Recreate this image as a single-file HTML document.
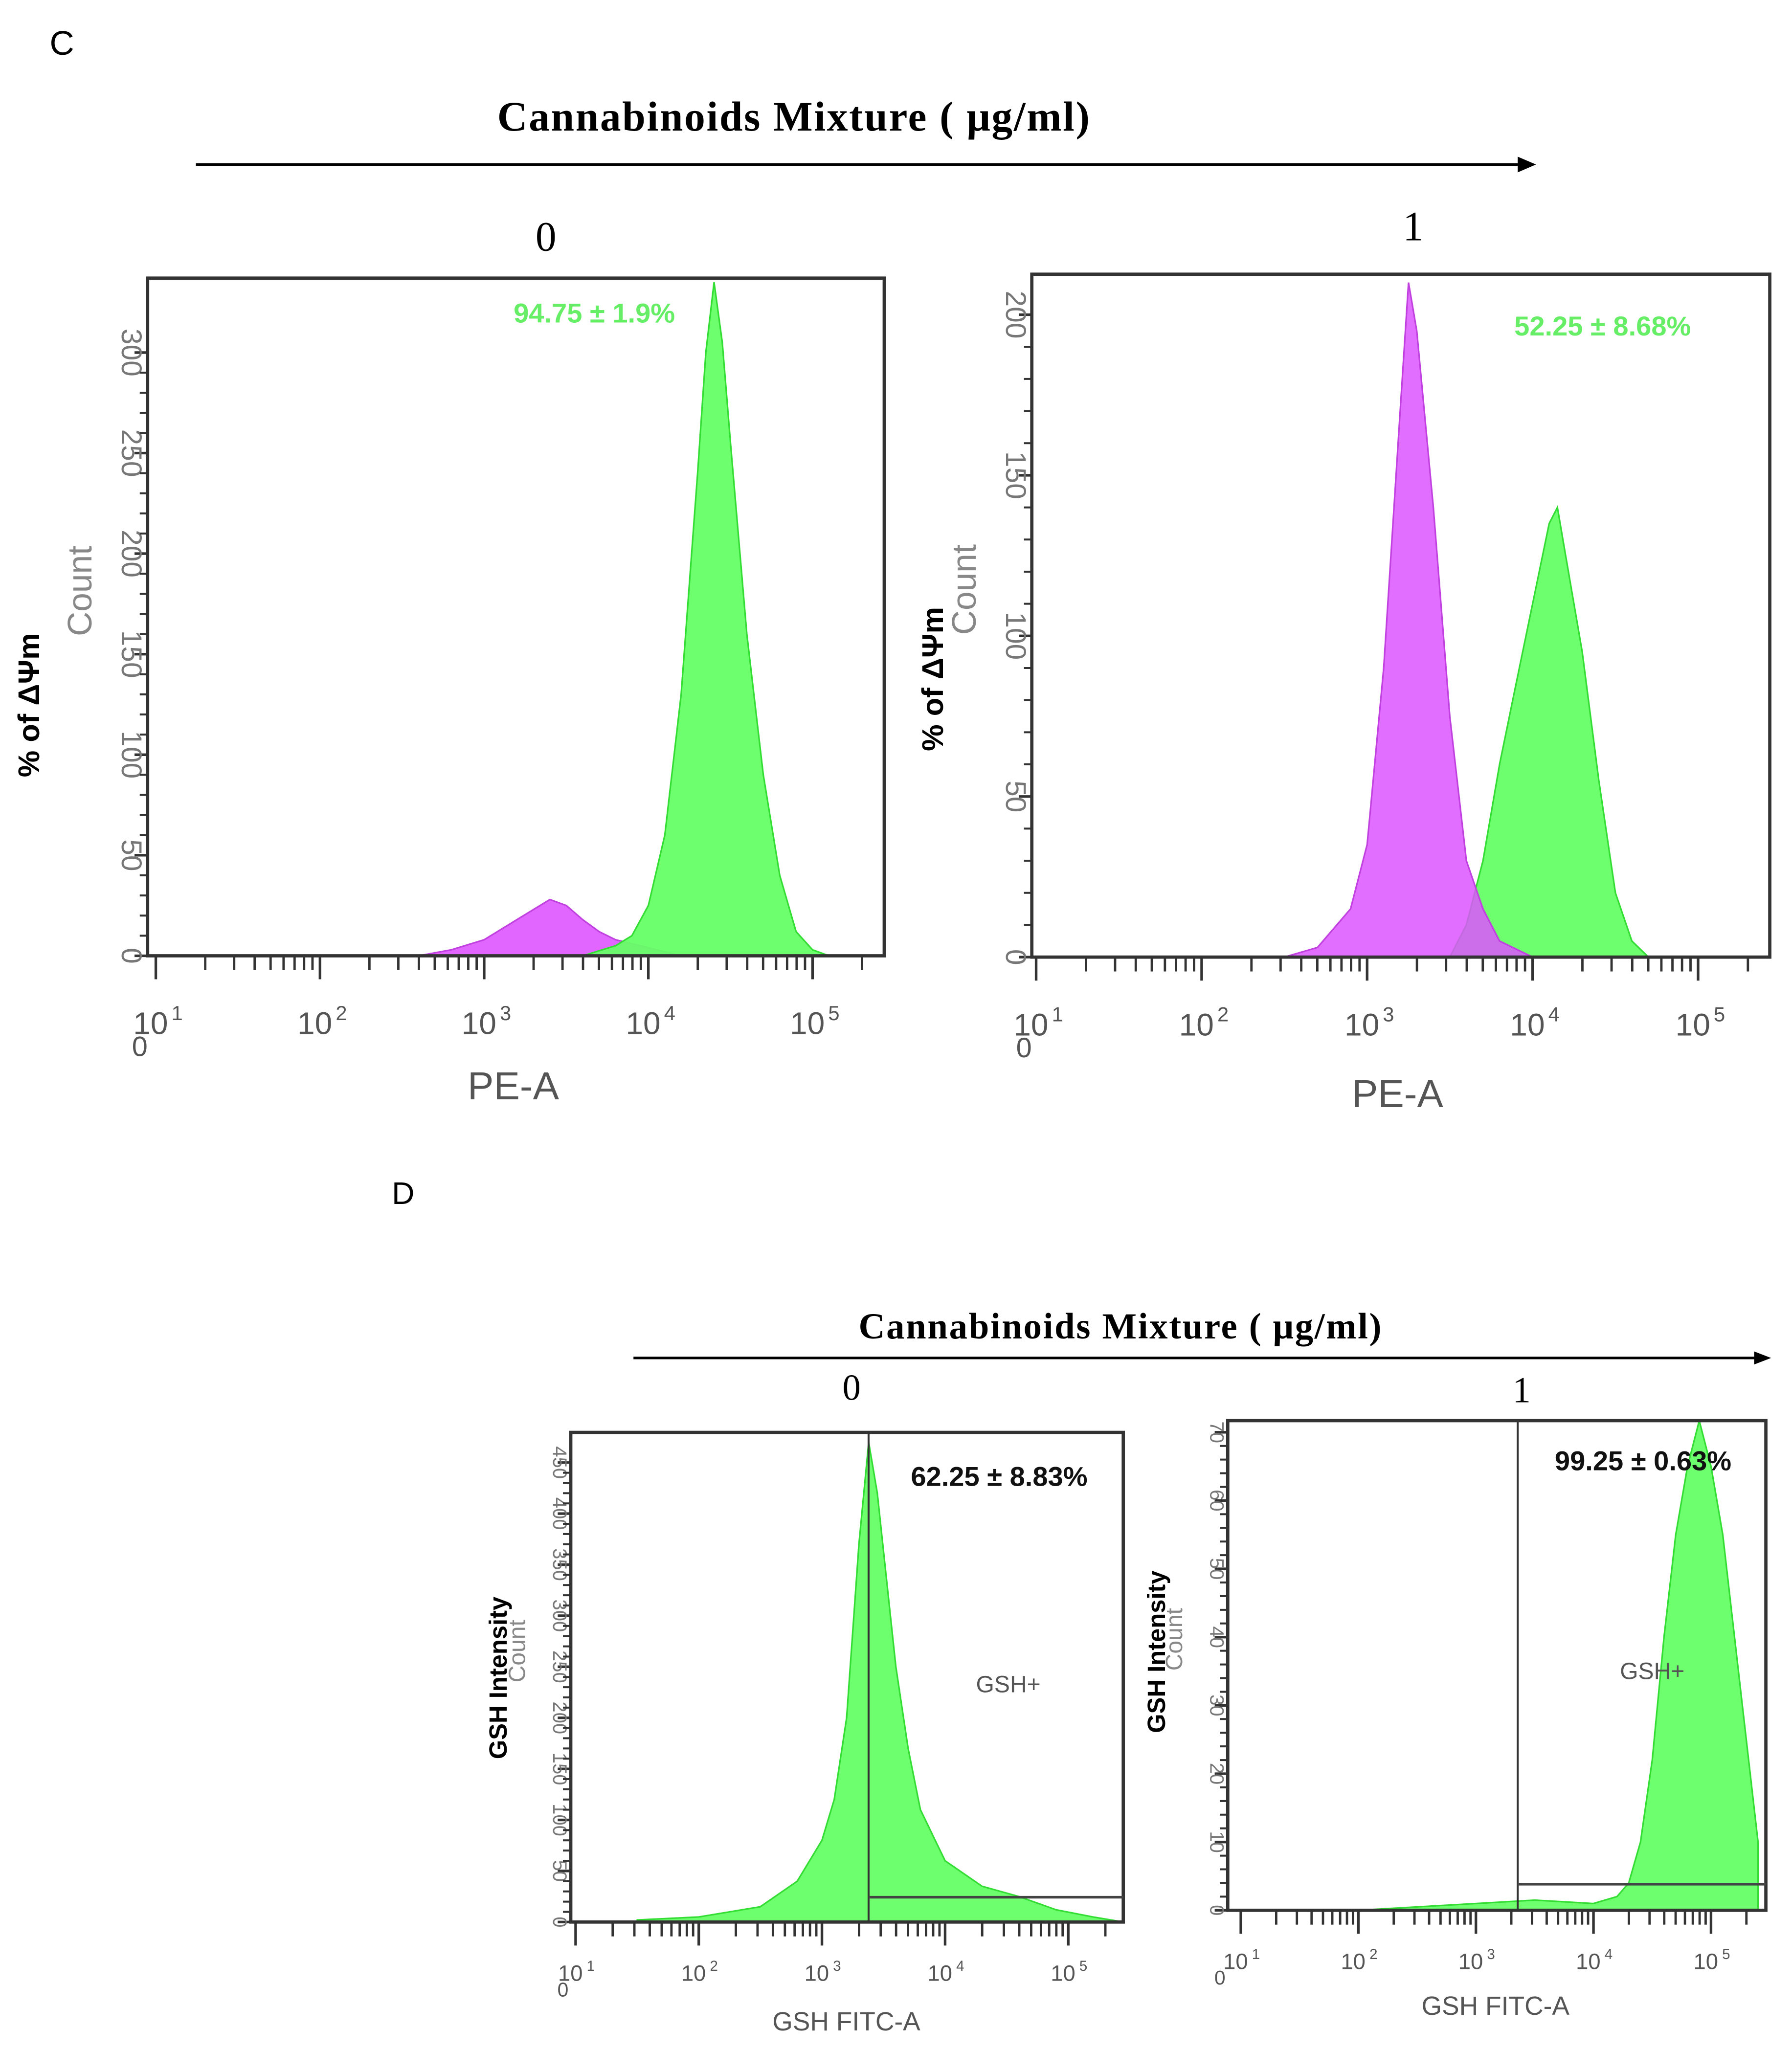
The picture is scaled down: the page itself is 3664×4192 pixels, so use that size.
<!DOCTYPE html>
<html><head><meta charset="utf-8">
<style>
html,body{margin:0;padding:0;background:#fff;}
svg{display:block;}
</style></head>
<body>
<svg id="fig" xmlns="http://www.w3.org/2000/svg" width="3664" height="4192" viewBox="0 0 1372 1570" preserveAspectRatio="none">
<rect width="1372" height="1570" fill="#fff"/>
<text x="38" y="42" font-family="Liberation Sans, sans-serif" font-size="26">C</text>
<text x="608" y="100" text-anchor="middle" font-family="Liberation Serif, serif" font-weight="bold" font-size="32" letter-spacing="1">Cannabinoids Mixture  ( μg/ml)</text>
<line x1="150" y1="126" x2="1165" y2="126" stroke="#000" stroke-width="2"/>
<polygon points="1176,126 1162,120 1162,132" fill="#000"/>
<text x="418" y="192" text-anchor="middle" font-family="Liberation Serif, serif" font-size="32">0</text>
<text x="1082" y="184" text-anchor="middle" font-family="Liberation Serif, serif" font-size="32">1</text>

<text x="300" y="922" font-family="Liberation Sans, sans-serif" font-size="24">D</text>
<text x="858" y="1025" text-anchor="middle" font-family="Liberation Serif, serif" font-weight="bold" font-size="28" letter-spacing="1">Cannabinoids Mixture  ( μg/ml)</text>
<line x1="485" y1="1040" x2="1345" y2="1040" stroke="#000" stroke-width="2"/>
<polygon points="1356,1040 1343,1035 1343,1045" fill="#000"/>
<text x="652" y="1072" text-anchor="middle" font-family="Liberation Serif, serif" font-size="28">0</text>
<text x="1165" y="1074" text-anchor="middle" font-family="Liberation Serif, serif" font-size="28">1</text>
<g id="plots"></g>
</svg>
<script>
// ---- data (log10 intensity, count) ----
const c1GreenLog = [3.6,3.8,3.9,4.0,4.1,4.2,4.3,4.35,4.4,4.45,4.5,4.6,4.7,4.8,4.9,5.0,5.1];
const c1GreenCnt = [0,5,10,25,60,130,240,300,335,305,255,160,90,40,12,3,0];
const c1MagLog = [2.6,2.8,3.0,3.2,3.4,3.5,3.6,3.7,3.8,4.0,4.2];
const c1MagCnt = [0,3,8,18,28,25,18,12,8,4,0];
const c2MagLog = [2.5,2.7,2.9,3.0,3.1,3.2,3.25,3.3,3.4,3.5,3.6,3.7,3.8,4.0];
const c2MagCnt = [0,3,15,35,90,170,210,195,140,75,30,15,5,0];
const c2GreenLog = [3.5,3.6,3.7,3.8,3.9,4.0,4.1,4.15,4.2,4.3,4.4,4.5,4.6,4.7];
const c2GreenCnt = [0,10,30,60,85,110,135,140,125,95,55,20,5,0];
const d1Log = [1.5,2.0,2.5,2.8,3.0,3.1,3.2,3.3,3.38,3.45,3.6,3.7,3.8,4.0,4.3,4.6,4.9,5.2,5.45];
const d1Cnt = [2,5,15,40,80,120,200,370,470,420,250,170,110,60,35,25,12,5,0];
const d2Log = [2.0,2.5,3.0,3.5,4.0,4.2,4.3,4.4,4.5,4.6,4.7,4.8,4.9,5.0,5.1,5.2,5.3,5.4];
const d2Cnt = [0,0.5,1,1.5,1,2,4,10,22,40,55,65,72,65,55,40,25,10];
const c1Ticks = [0,50,100,150,200,250,300];
const c2Ticks = [0,50,100,150,200];
const d1Ticks = [0,50,100,150,200,250,300,350,400,450];
const d2Ticks = [0,10,20,30,40,50,60,70];
const decades = [1,2,3,4,5];

const NS="http://www.w3.org/2000/svg";
const root=document.getElementById('plots');
function mk(tag,attrs,parent){const e=document.createElementNS(NS,tag);for(const k in attrs)e.setAttribute(k,attrs[k]);(parent||root).appendChild(e);return e;}

function panel(p){
  const g=mk('g',{});
  
  
  const X=l=>p.x2+(l-2)*p.dec, Y=c=>Math.max(p.T,p.y0-c*p.ppc);
  p.series.forEach(s=>{
    let d='M'+X(s.log[0])+','+p.y0;
    s.log.forEach((l,i)=>{d+=' L'+X(l).toFixed(1)+','+Y(s.cnt[i]).toFixed(1);});
    d+=' L'+X(s.log[s.log.length-1]).toFixed(1)+','+p.y0+' Z';
    const path=mk('path',{d:d,fill:s.fill,'fill-opacity':s.op,stroke:s.stroke,'stroke-width':1.2},g);
    
    
  });
  const box=mk('rect',{x:p.L,y:p.T,width:p.R-p.L,height:p.y0-p.T,fill:'none',stroke:'#333','stroke-width':2.5},g);
  
  
  p.ticks.forEach(t=>{
    const y=Y(t);
    mk('line',{x1:p.L-10,y1:y,x2:p.L,y2:y,stroke:'#333','stroke-width':2},g);
    const lx=p.L-p.yfs2*0.9;
    const tx=mk('text',{x:lx,y:y,'text-anchor':'middle','font-family':'Liberation Sans, sans-serif','font-size':p.yfs2,fill:'#777',transform:`rotate(90 ${lx} ${y})`},g);
    tx.textContent=t;
    
    
  });
  for(let i=0;i<p.ticks.length-1;i++){for(let k=1;k<5;k++){const y=Y(p.ticks[i]+(p.ticks[i+1]-p.ticks[i])*k/5);mk('line',{x1:p.L-6,y1:y,x2:p.L,y2:y,stroke:'#333','stroke-width':1.5},g);}}
  decades.forEach(dc=>{
    const x=X(dc);
    mk('line',{x1:x,y1:p.y0,x2:x,y2:p.y0+18,stroke:'#333','stroke-width':2},g);
    for(let m=2;m<10;m++){const xm=X(dc+Math.log10(m));if(xm<p.R)mk('line',{x1:xm,y1:p.y0,x2:xm,y2:p.y0+11,stroke:'#333','stroke-width':1.8},g);}
    const tl=mk('text',{x:x-4,y:p.y0+p.xty,'text-anchor':'middle','font-family':'Liberation Sans, sans-serif','font-size':p.xfs,fill:'#555'},g);
    tl.textContent='10';
    
    
    const sup=mk('text',{x:x+p.xfs*0.5,y:p.y0+p.xty-p.xfs*0.45,'font-family':'Liberation Sans, sans-serif','font-size':p.xfs*0.65,fill:'#555'},g);
    sup.textContent=dc;
  });
  const z=mk('text',{x:p.L-6,y:p.y0+p.xty+p.xfs*0.7,'text-anchor':'middle','font-family':'Liberation Sans, sans-serif','font-size':p.xfs*0.9,fill:'#555'},g);z.textContent='0';
  const xl=mk('text',{x:p.xlx,y:p.xly,'text-anchor':'middle','font-family':'Liberation Sans, sans-serif','font-size':p.xlfs,fill:'#555'},g);
  xl.textContent=p.xlabel;
  
  
  const cy=(p.T+p.y0)/2-20;
  const ct=mk('text',{x:p.cx,y:cy,'text-anchor':'middle','font-family':'Liberation Sans, sans-serif','font-size':p.cfs,fill:'#888',transform:`rotate(-90 ${p.cx} ${cy})`},g);
  ct.textContent='Count';
  
  
  const yl=mk('text',{x:p.ylx,y:p.yly,'text-anchor':'middle','font-family':'Liberation Sans, sans-serif','font-weight':'bold','font-size':p.yfs,fill:'#000',transform:`rotate(-90 ${p.ylx} ${p.yly})`},g);
  yl.textContent=p.ylabel;
  
  
  if(p.gate){
    mk('line',{x1:p.gate.x,y1:p.T,x2:p.gate.x,y2:p.y0,stroke:'#333','stroke-width':1.5},g);
    mk('line',{x1:p.gate.x,y1:p.gate.y,x2:p.R,y2:p.gate.y,stroke:'#444','stroke-width':2},g);
    const gl=mk('text',{x:p.gate.lx,y:p.gate.ly,'text-anchor':'middle','font-family':'Liberation Sans, sans-serif','font-size':18,fill:'#555'},g);
    gl.textContent='GSH+';
    
    
  }
  const pt=mk('text',{x:p.pct.x,y:p.pct.y,'text-anchor':'middle','font-family':'Liberation Sans, sans-serif','font-weight':'bold','font-size':p.pct.fs,fill:p.pct.c},g);
  pt.textContent=p.pct.t;
  
  
}
const G='#66ff66', M='#dd55ff';
panel({name:'panel-c-dose-0',L:113,R:677,T:213,y0:732,x2:245,dec:125.7,ppc:1.54,ticks:c1Ticks,yfs2:22,xfs:24,xty:60,xlfs:30,cfs:26,
  series:[{name:'histogram-magenta',log:c1MagLog,cnt:c1MagCnt,fill:M,op:0.9,stroke:'#c040e0'},{name:'histogram-green',log:c1GreenLog,cnt:c1GreenCnt,fill:G,op:0.95,stroke:'#33dd33'}],
  xlabel:'PE-A',xlx:393,xly:842,cx:70,ylabel:'% of ΔΨm',ylx:30,yly:540,yfs:23,pct:{x:455,y:247,t:'94.75 ± 1.9%',fs:21,c:'#66ee66'}});
panel({name:'panel-c-dose-1',L:790,R:1355,T:210,y0:733,x2:920,dec:126.7,ppc:2.46,ticks:c2Ticks,yfs2:22,xfs:24,xty:60,xlfs:30,cfs:26,
  series:[{name:'histogram-green',log:c2GreenLog,cnt:c2GreenCnt,fill:G,op:0.95,stroke:'#33dd33'},{name:'histogram-magenta',log:c2MagLog,cnt:c2MagCnt,fill:M,op:0.85,stroke:'#c040e0'}],
  xlabel:'PE-A',xlx:1070,xly:848,cx:747,ylabel:'% of ΔΨm',ylx:722,yly:520,yfs:23,pct:{x:1227,y:257,t:'52.25 ± 8.68%',fs:21,c:'#66ee66'}});
panel({name:'panel-d-dose-0',L:437,R:860,T:1097,y0:1472,x2:535,dec:94.3,ppc:0.782,ticks:d1Ticks,yfs2:15,xfs:17,xty:45,xlfs:20,cfs:18,
  series:[{name:'histogram-green',log:d1Log,cnt:d1Cnt,fill:G,op:0.95,stroke:'#33dd33'}],
  xlabel:'GSH FITC-A',xlx:648,xly:1555,cx:402,ylabel:'GSH  Intensity',ylx:388,yly:1285,yfs:19,
  gate:{x:665,y:1453,lx:772,ly:1296},pct:{x:765,y:1138,t:'62.25 ± 8.83%',fs:21,c:'#111'}});
panel({name:'panel-d-dose-1',L:940,R:1352,T:1088,y0:1463,x2:1040,dec:90,ppc:5.23,ticks:d2Ticks,yfs2:15,xfs:17,xty:45,xlfs:20,cfs:18,
  series:[{name:'histogram-green',log:d2Log,cnt:d2Cnt,fill:G,op:0.95,stroke:'#33dd33'}],
  xlabel:'GSH FITC-A',xlx:1145,xly:1543,cx:905,ylabel:'GSH  Intensity',ylx:892,yly:1265,yfs:19,
  gate:{x:1162,y:1443,lx:1265,ly:1286},pct:{x:1258,y:1126,t:'99.25 ± 0.63%',fs:21,c:'#111'}});
</script>
</body></html>
